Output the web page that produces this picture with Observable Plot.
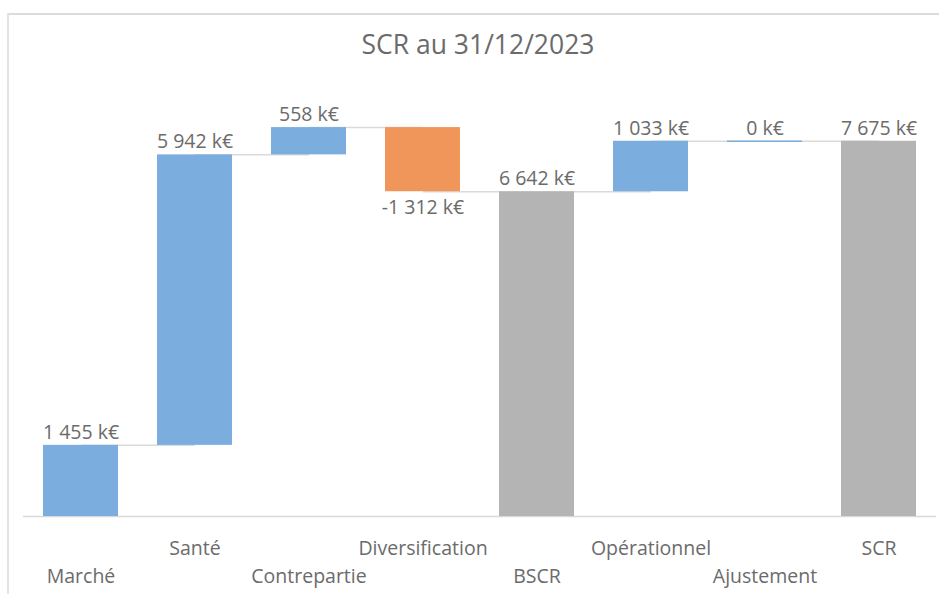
<!DOCTYPE html>
<html>
<head>
<meta charset="utf-8">
<script src="https://cdn.jsdelivr.net/npm/d3@7"></script>
<script src="https://cdn.jsdelivr.net/npm/@observablehq/plot@0.6"></script>
<style>
  html, body { margin: 0; padding: 0; background: #fff; }
  #wrap { position: relative; width: 939px; height: 594px; overflow: hidden; font-family: "Open Sans", sans-serif; }
  #frame { position: absolute; left: 7px; top: 13px; width: 940px; height: 600px; border-top: 2px solid #dcdcdc; border-left: 2px solid #e4e4e4; box-sizing: border-box; pointer-events: none; }
  #title { position: absolute; left: 0; width: 956px; top: 26px; text-align: center; font-size: 26.5px; line-height: 36px; color: #6b6b6b; }
  #chart { position: absolute; left: 0; top: 0; }
</style>
</head>
<body>
<div id="wrap">
  <div id="chart"></div>
  <div id="frame"></div>
  <div id="title">SCR au 31/12/2023</div>
</div>
<script>
const categories = ["Marché", "Santé", "Contrepartie", "Diversification", "BSCR", "Opérationnel", "Ajustement", "SCR"];
const values = [1455, 5942, 558, -1312, 6642, 1033, 0, 7675];
const kinds = ["delta", "delta", "delta", "delta", "total", "delta", "delta", "total"];

const fr = d3.formatLocale({decimal: ",", thousands: " ", grouping: [3], currency: ["", " €"], minus: "-"});
const fmt = v => fr.format(",d")(v) + " k€";

let running = 0;
const rows = categories.map((c, i) => {
  const v = values[i];
  let start, end;
  if (kinds[i] === "total") { start = 0; end = v; }
  else { start = running; end = running + v; }
  running = end;
  const color = kinds[i] === "total" ? "#b4b4b4" : (v < 0 ? "#f0965a" : "#7badde");
  return {cat: c, i, v, start, end, top: Math.max(start, end), bottom: Math.min(start, end), color, label: fmt(v)};
});
const links = rows.slice(0, -1).map((r, i) => ({x1: r.cat, x2: rows[i + 1].cat, y: r.end}));
const pos = rows.filter(r => r.v >= 0);
const neg = rows.filter(r => r.v < 0);

const chart = Plot.plot({
  width: 939,
  height: 594,
  marginLeft: 23,
  marginRight: 3,
  marginTop: 76,
  marginBottom: 78,
  style: {fontFamily: "'Open Sans', sans-serif", background: "transparent"},
  x: {domain: categories, paddingInner: 0.34, paddingOuter: 0.17, axis: null},
  y: {domain: [0, 9000], axis: null},
  marks: [
    Plot.ruleY([0], {stroke: "#d9d9d9", strokeWidth: 1.5}),
    Plot.link(links, {x1: "x1", x2: "x2", y1: "y", y2: "y", stroke: "#dadada", strokeWidth: 1.5}),
    Plot.barY(rows, {x: "cat", y1: "start", y2: "end", fill: "color"}),
    Plot.tickY(rows.filter(r => r.v === 0), {x: "cat", y: "end", stroke: "#7badde", strokeWidth: 1.5}),
    Plot.text(pos, {x: "cat", y: "top", text: "label", dy: -13, fill: "#6b6b6b", fontSize: 19.5, lineAnchor: "middle"}),
    Plot.text(neg, {x: "cat", y: "bottom", text: "label", dy: 16, fill: "#6b6b6b", fontSize: 19.5, lineAnchor: "middle"}),
    Plot.text(rows.filter(r => r.i % 2 === 1), {x: "cat", y: 0, text: "cat", dy: 32, fill: "#6b6b6b", fontSize: 19.5, lineAnchor: "middle"}),
    Plot.text(rows.filter(r => r.i % 2 === 0), {x: "cat", y: 0, text: "cat", dy: 60, fill: "#6b6b6b", fontSize: 19.5, lineAnchor: "middle"})
  ]
});
document.getElementById("chart").appendChild(chart);
</script>
</body>
</html>
